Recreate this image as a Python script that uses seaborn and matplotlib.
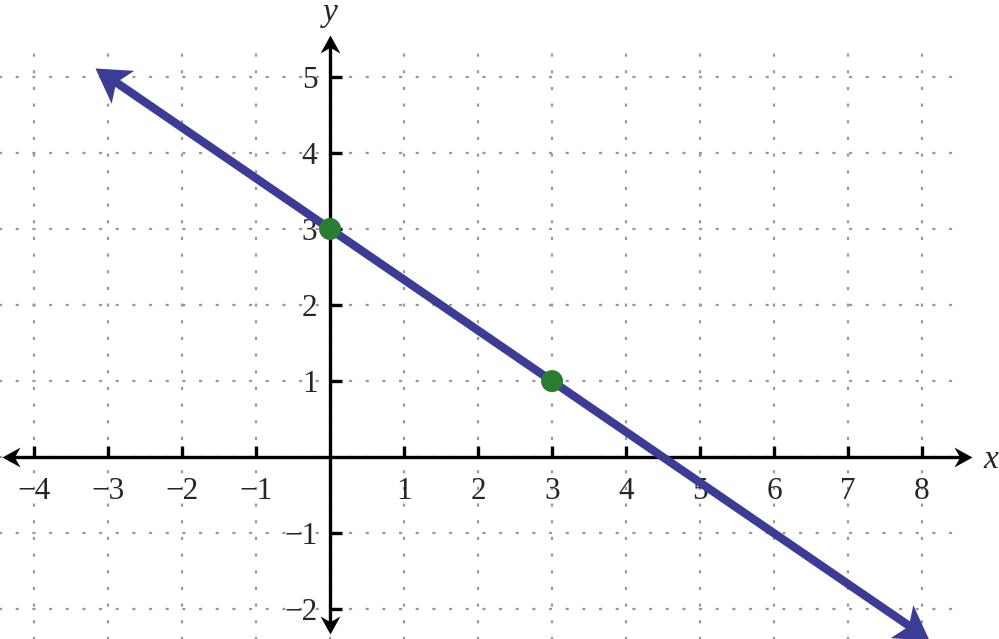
import numpy as np
import pandas as pd
import matplotlib
matplotlib.use('Agg')
import matplotlib.pyplot as plt
from matplotlib.markers import MarkerStyle
from matplotlib.path import Path
from matplotlib.transforms import Affine2D
import seaborn as sns

# tick labels on the two axes
x_ticks = [-4, -3, -2, -1, 1, 2, 3, 4, 5, 6, 7, 8]
y_ticks = [-2, -1, 1, 2, 3, 4, 5]
grid_x = [-4, -3, -2, -1, 0, 1, 2, 3, 4, 5, 6, 7, 8]
grid_y = [-2, -1, 0, 1, 2, 3, 4, 5]

# the line, ends are where the arrow tips sit
line_x = [-3.18, 8.10]
line_y = [5.12, -2.40]

# the two marked points
pts_x = [0, 3]
pts_y = [3, 1]

# axis arrow ends
x_axis_ends = [-4.43, 8.68]
y_axis_ends = [-2.33, 5.55]

sns.set_theme(style='white')
plt.rcParams['font.family'] = ['Liberation Serif', 'DejaVu Serif']

fig = plt.figure(figsize=(9.99, 6.39), dpi=100)
ax = fig.add_axes([0, 0, 1, 1])
ax.set_xlim(-4.46, 9.04)
ax.set_ylim(-2.39, 6.01)
ax.axis('off')

blue = '#3c3b96'
green = '#2a7d30'


def stealth(angle, notch=0.72, half=0.56):
    # arrow head with its tip at the origin, pointing along +x
    verts = [(0, 0), (-1, half), (-notch, 0), (-1, -half), (0, 0)]
    codes = [Path.MOVETO, Path.LINETO, Path.LINETO, Path.LINETO, Path.CLOSEPOLY]
    return MarkerStyle(Path(verts, codes), transform=Affine2D().rotate_deg(angle))


# dotted grid
grid_kw = dict(color='#9a9a9a', lw=1.6, linestyle=(0, (1.4, 6.1)), zorder=1)
ax.hlines(grid_y, -4.5, 8.42, **grid_kw)
ax.vlines(grid_x, -2.4, 5.33, **grid_kw)

# axes with arrows
ax.plot([x_axis_ends[0] + 0.1, x_axis_ends[1] - 0.1], [0, 0], color='black',
        lw=2.4, solid_capstyle='butt', zorder=3)
ax.plot([0, 0], [y_axis_ends[0] + 0.1, y_axis_ends[1] - 0.1], color='black',
        lw=2.4, solid_capstyle='butt', zorder=3)
for (px, py, ang) in [(x_axis_ends[1], 0, 0), (x_axis_ends[0], 0, 180),
                      (0, y_axis_ends[1], 90), (0, y_axis_ends[0], 270)]:
    ax.plot(px, py, marker=stealth(ang, notch=0.68, half=0.55), ms=26,
            color='black', mew=0, zorder=3)

# tick marks
ax.vlines(x_ticks, 0, 0.145, color='black', lw=2.4, zorder=3)
ax.hlines(y_ticks, 0, 0.16, color='black', lw=2.4, zorder=3)

# tick labels
for v in x_ticks:
    ax.text(v, -0.545, str(v).replace('-', '\u2212'), ha='center', va='baseline',
            fontsize=22.5, zorder=2)
for v in y_ticks:
    ax.text(-0.17, v - 0.145, str(v).replace('-', '\u2212'), ha='right',
            va='baseline', fontsize=22.5, zorder=2)

ax.text(8.93, -0.04, 'x', style='italic', ha='center', va='center', fontsize=24)
ax.text(0.0, 5.84, 'y', style='italic', ha='center', va='center', fontsize=24)

# the line, body pulled in a little so the heads cover its ends
lx = np.array(line_x)
ly = np.array(line_y)
body = pd.DataFrame({'x': [lx[0] + 0.02 * (lx[1] - lx[0]), lx[1] - 0.02 * (lx[1] - lx[0])],
                     'y': [ly[0] + 0.02 * (ly[1] - ly[0]), ly[1] - 0.02 * (ly[1] - ly[0])]})
sns.lineplot(data=body, x='x', y='y', ax=ax, color=blue, lw=6, sort=False,
             estimator=None, zorder=4)
p0 = ax.transData.transform((lx[0], ly[0]))
p1 = ax.transData.transform((lx[1], ly[1]))
ang = np.degrees(np.arctan2(p1[1] - p0[1], p1[0] - p0[0]))
ax.plot(lx[1], ly[1], marker=stealth(ang, notch=0.75, half=0.6), ms=48,
        color=blue, mew=0, zorder=4)
ax.plot(lx[0], ly[0], marker=stealth(ang + 180, notch=0.75, half=0.6), ms=48,
        color=blue, mew=0, zorder=4)

# marked points
sns.scatterplot(x=pts_x, y=pts_y, ax=ax, s=250, color=green, edgecolor='none',
                zorder=6)

ax.set_xlim(-4.46, 9.04)
ax.set_ylim(-2.39, 6.01)
ax.set_xlabel('')
ax.set_ylabel('')

fig.savefig('out.png', dpi=100)
